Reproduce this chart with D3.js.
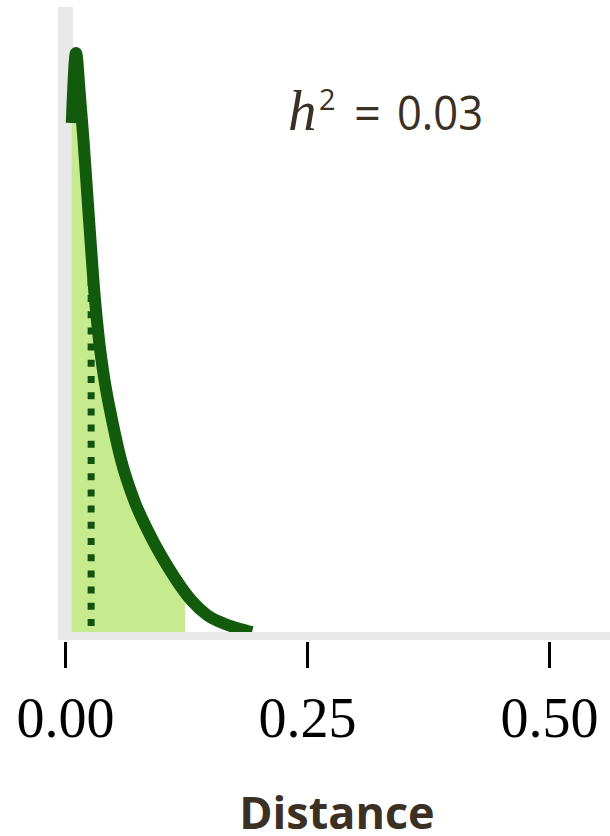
<!DOCTYPE html>
<html>
<head>
<meta charset="utf-8">
<script src="https://cdn.jsdelivr.net/npm/d3@7"></script>
<style>
    body { margin: 0; background: #fff; }
    svg { display: block; }
</style>
</head>
<body>
<div id="chart"></div>
<script>
// density curve
const distance = [0.007, 0.0114, 0.0150, 0.0191, 0.0227, 0.0263, 0.0310, 0.0351, 0.0408, 0.0486,
    0.0579, 0.0713, 0.0868, 0.1064, 0.1302, 0.1467, 0.1653, 0.1808, 0.1932];
const density = [26.1, 29.66, 27.78, 25.23, 22.69, 20.15, 17.09, 15.06, 13.02, 10.99,
    8.95, 6.92, 5.24, 3.51, 1.83, 1.07, 0.61, 0.36, 0.20];
const shadeTo = 0.124;          // right edge of the shaded region
const meanDistance = 0.027;     // dotted line
const meanDensity = 19.8;
const h2Label = "0.03";
const xTicks = [0, 0.25, 0.5];
const xTitle = "Distance";

const W = 610, H = 836;
const svg = d3.select("#chart").append("svg")
    .attr("width", W)
    .attr("height", H);

const x = d3.scaleLinear().domain([0, 0.5]).range([65, 549]);
const y = d3.scaleLinear().domain([0, 32]).range([636, 7]);

const pts = distance.map(function (d, i) { return { x: d, y: density[i] }; });

// clip for the shaded part
svg.append("clipPath").attr("id", "shade")
    .append("rect")
    .attr("x", x(0)).attr("y", 0)
    .attr("width", x(shadeTo) - x(0)).attr("height", H);

// vertical axis bar (under the curve)
svg.append("rect")
    .attr("x", 58).attr("y", 7)
    .attr("width", 15).attr("height", 633)
    .attr("fill", "#e8e8e8");

// shaded area
const area = d3.area()
    .x(function (d) { return x(d.x); })
    .y0(y(0))
    .y1(function (d) { return y(d.y); })
    .curve(d3.curveMonotoneX);
svg.append("path")
    .datum(pts)
    .attr("d", area)
    .attr("clip-path", "url(#shade)")
    .attr("fill", "#c6eb8f");

// dotted mean line
svg.append("line")
    .attr("x1", x(meanDistance)).attr("x2", x(meanDistance))
    .attr("y1", y(0) - 10).attr("y2", y(meanDensity))
    .attr("stroke", "#13520e")
    .attr("stroke-width", 7)
    .attr("stroke-dasharray", "7 9.2");

// density curve
const line = d3.line()
    .x(function (d) { return x(d.x); })
    .y(function (d) { return y(d.y); })
    .curve(d3.curveMonotoneX);
svg.append("path")
    .datum(pts)
    .attr("d", line)
    .attr("fill", "none")
    .attr("stroke", "#125a0c")
    .attr("stroke-width", 12)
    .attr("stroke-linejoin", "round");

// horizontal axis bar (on top)
svg.append("rect")
    .attr("x", 58).attr("y", 632)
    .attr("width", W - 58).attr("height", 8)
    .attr("fill", "#e8e8e8");

// x axis ticks and labels
const xAxis = svg.append("g")
    .attr("transform", "translate(0,642)")
    .call(d3.axisBottom(x).tickValues(xTicks).tickSize(26).tickFormat(d3.format(".2f")));
xAxis.select(".domain").remove();
xAxis.selectAll(".tick line")
    .attr("stroke", "#000")
    .attr("stroke-width", 3);
xAxis.selectAll(".tick text")
    .attr("y", 95)
    .attr("dy", 0)
    .attr("fill", "#000")
    .style("font-family", "'Liberation Serif', 'Times New Roman', serif")
    .style("font-size", "56px");

// axis title
svg.append("text")
    .attr("x", 337).attr("y", 829)
    .attr("text-anchor", "middle")
    .attr("fill", "#3b3024")
    .style("font-family", "'Open Sans', sans-serif")
    .style("font-weight", "bold")
    .style("font-size", "45px")
    .text(xTitle);

// h^2 annotation
const ann = svg.append("text")
    .attr("x", 288).attr("y", 130)
    .attr("fill", "#3b3024")
    .style("font-family", "'Open Sans', sans-serif")
    .style("font-size", "47px");
ann.append("tspan")
    .style("font-family", "'Liberation Serif', serif")
    .style("font-style", "italic")
    .style("font-size", "57px")
    .text("h");
ann.append("tspan")
    .attr("x", 319).attr("y", 110)
    .style("font-size", "29px")
    .text("2");
ann.append("tspan")
    .attr("x", 354).attr("y", 130)
    .text("=");
ann.append("tspan")
    .attr("x", 397).attr("y", 130)
    .attr("textLength", 86)
    .attr("lengthAdjust", "spacingAndGlyphs")
    .text(h2Label);
</script>
</body>
</html>
